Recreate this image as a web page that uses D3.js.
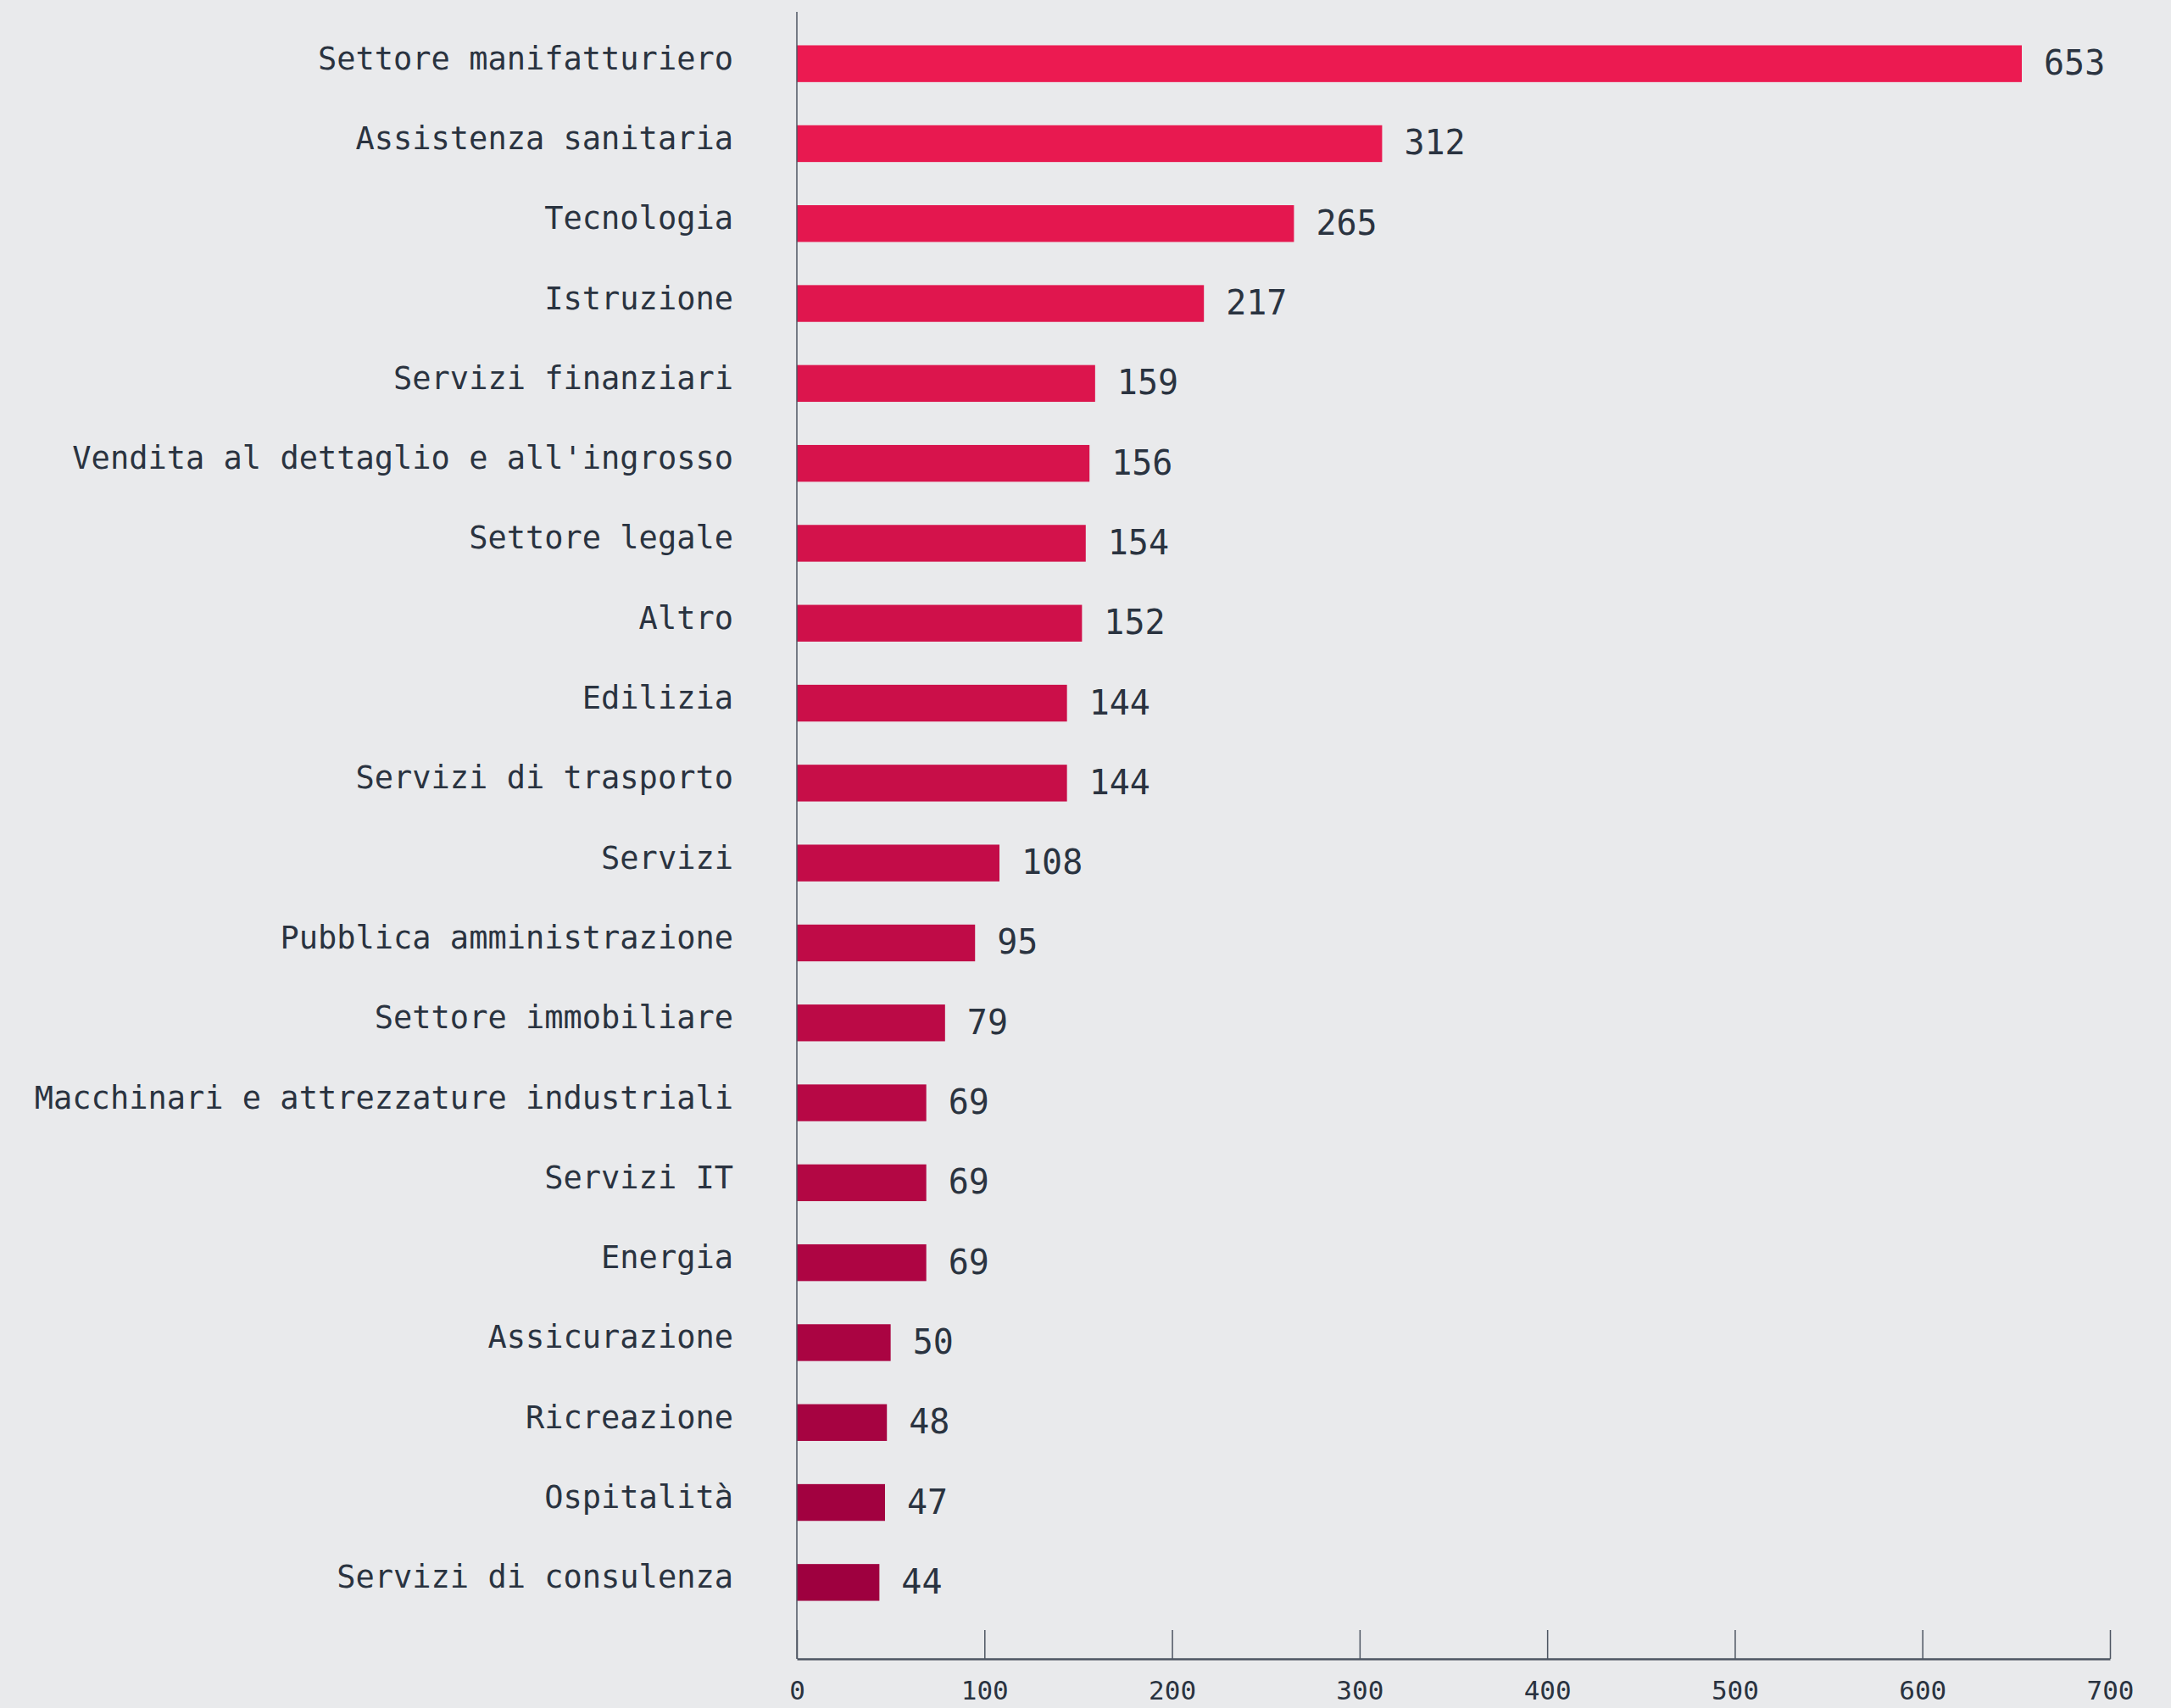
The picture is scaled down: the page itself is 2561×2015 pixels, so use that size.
<!DOCTYPE html>
<html><head><meta charset="utf-8">
<script src="https://cdn.jsdelivr.net/npm/d3@7"></script>
<style>
html,body{margin:0;padding:0;background:#e9eaec;}
svg{display:block;}
</style></head>
<body>
<script>
const categories = ["Settore manifatturiero","Assistenza sanitaria","Tecnologia","Istruzione","Servizi finanziari","Vendita al dettaglio e all'ingrosso","Settore legale","Altro","Edilizia","Servizi di trasporto","Servizi","Pubblica amministrazione","Settore immobiliare","Macchinari e attrezzature industriali","Servizi IT","Energia","Assicurazione","Ricreazione","Ospitalità","Servizi di consulenza"];
const values = [653,312,265,217,159,156,154,152,144,144,108,95,79,69,69,69,50,48,47,44];
const xTicks = [0,100,200,300,400,500,600,700];

const W = 2561, H = 2015;
const svg = d3.select("body").append("svg").attr("width", W).attr("height", H);
svg.append("rect").attr("width", W).attr("height", H).attr("fill", "#e9eaec");

const x = d3.scaleLinear().domain([0, 700]).range([940, 2489]);
const y = d3.scaleBand().domain(categories).range([28, 1914]).paddingInner(0.54).paddingOuter(0.27);
const color = d3.scaleLinear().domain([0, categories.length - 1]).range(["#ec1a51", "#9e003f"]);
const mono = "'DejaVu Sans Mono', 'Liberation Mono', monospace";
const textCol = "#2a3340";

// bars
svg.append("g").selectAll("rect").data(values).join("rect")
  .attr("x", x(0))
  .attr("y", (d, i) => y(categories[i]))
  .attr("width", d => x(d) - x(0))
  .attr("height", y.bandwidth())
  .attr("fill", (d, i) => color(i));

// value labels
svg.append("g").selectAll("text").data(values).join("text")
  .attr("x", d => x(d) + 26)
  .attr("y", (d, i) => y(categories[i]) + y.bandwidth() / 2 + 2)
  .attr("dominant-baseline", "middle")
  .attr("font-family", "'Liberation Sans Narrow', 'DejaVu Sans Mono', monospace")
  .attr("font-size", 40)
  .attr("fill", textCol)
  .text(d => d);

// category labels
svg.append("g").selectAll("text").data(categories).join("text")
  .attr("x", 865)
  .attr("y", d => y(d) + y.bandwidth() / 2 - 4)
  .attr("text-anchor", "end")
  .attr("dominant-baseline", "middle")
  .attr("font-family", mono)
  .attr("font-size", 37)
  .attr("fill", textCol)
  .text(d => d);

// y axis line
svg.append("line").attr("x1", x(0)).attr("x2", x(0)).attr("y1", 14).attr("y2", 1957)
  .attr("stroke", "#4d5562").attr("stroke-width", 1.5);

// x axis
const xAxis = d3.axisBottom(x).tickValues(xTicks).tickSize(0).tickPadding(0);
const gx = svg.append("g").attr("transform", "translate(0,1957)").call(xAxis);
gx.select(".domain").attr("stroke", "#4d5562").attr("stroke-width", 2.5);
gx.selectAll(".tick line").attr("y2", -34).attr("stroke", "#4d5562").attr("stroke-width", 1.5);
gx.selectAll(".tick text")
  .attr("y", 38)
  .attr("dy", "0.32em")
  .attr("font-family", mono)
  .attr("font-size", 31)
  .attr("fill", textCol)
  .text(d => String(d).replace(/0/g, "0"));
</script>
</body></html>
